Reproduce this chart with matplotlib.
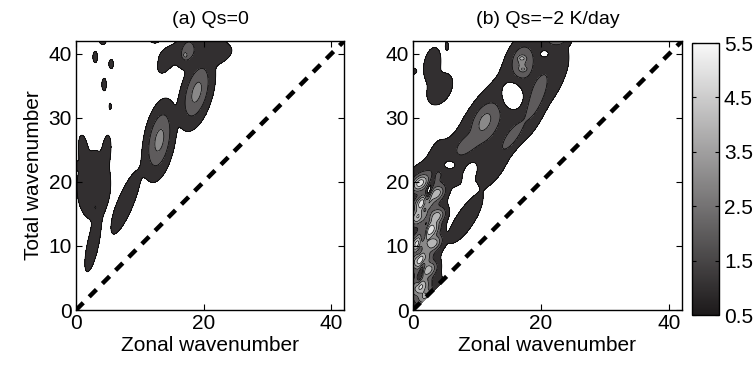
import matplotlib
matplotlib.use("Agg")
import matplotlib.pyplot as plt
import numpy as np
from matplotlib.colors import LinearSegmentedColormap, Normalize
from matplotlib.cm import ScalarMappable

plt.rcParams["font.family"] = ["Liberation Sans", "DejaVu Sans"]
plt.rcParams["font.size"] = 15

# blobs: centre (zonal, total), peak, half widths, tilt
# negative peaks are the white holes cut into the shaded areas
a_k = [2.8, 1.1, 4.8, 2.6, 3.0, 0.0, 7.8, 13.05, 18.9, 17.5, 17.1, 18.5, 14.0, 22.5, 12.3,
       3.0, 4.2, 5.5, 4.4, 5.35]
a_l = [19.5, 25.0, 25.0, 10.0, 16.0, 22.6, 16.8, 26.5, 34.0, 40.5, 39.8, 40.5, 38.5, 39.5, 42.5,
       39.5, 41.8, 38.4, 35.2, 31.8]
a_amp = [1.25, 0.95, 0.95, 1.0, 1.6, 0.7, 1.0, 2.8, 2.8, 1.8, 2.6, 1.0, 0.9, 0.9, 0.8,
         0.75, 0.7, 0.75, 0.75, 0.65]
a_sa = [4.0, 2.0, 2.0, 3.5, 0.3, 0.6, 4.5, 3.6, 3.4, 1.8, 0.4, 4.5, 1.5, 1.6, 1.0,
        1.0, 0.6, 0.8, 1.1, 0.7]
a_sb = [1.95, 0.6, 0.55, 0.75, 0.15, 0.6, 1.05, 1.35, 1.4, 1.0, 0.3, 1.6, 0.8, 0.8, 0.8,
        0.4, 0.4, 0.4, 0.4, 0.25]
a_ang = [88, 95, 85, 78, 90, 0, 68, 80, 75, 80, 90, 10, 60, 30, 0,
         90, 0, 90, 90, 90]

b_k = [7.5, 11.5, 15.0, 18.5, 20.5, 12.5,
       11.2, 8.5, 15.5, 19.3, 17.0, 17.0, 17.2, 22.6,
       15.6, 20.5, 5.8, 8.8,
       1.8, 2.2, 2.4, 2.0, 5.5, 1.9, 8.2,
       1.09, 3.7, 1.6, 0.83, 3.7, 2.7, 0.83, 3.2, 1.1, 2.4, 1.1, 1.9,
       2.2, 1.6, 1.3,
       3.0, 4.2, 0.0, 5.3]
b_l = [23.5, 27.5, 31.5, 36.5, 41.5, 22.5,
       29.5, 26.0, 27.0, 33.0, 38.8, 39.3, 37.6, 42.0,
       33.3, 40.0, 22.6, 21.8,
       3.5, 10.0, 17.0, 21.0, 21.5, 11.0, 14.2,
       19.8, 18.2, 16.7, 14.6, 14.6, 12.5, 10.4, 10.4, 7.8, 6.25, 3.6, 2.1,
       17.5, 11.5, 6.0,
       38.3, 34.5, 37.3, 41.2]
b_amp = [1.15, 1.2, 1.2, 1.2, 1.15, 0.95,
         2.6, 1.8, 1.8, 1.8, 2.5, 3.2, 3.0, 1.9,
         -2.5, -1.5, -1.5, -1.5,
         1.2, 1.2, 1.2, 1.0, 1.0, 1.9, 1.05,
         5.0, 4.0, 5.5, 4.5, 4.0, 5.0, 5.0, 4.0, 5.0, 4.0, 4.5, 3.5,
         -2.5, -2.5, -2.0,
         1.0, 1.05, 0.8, 0.7]
b_sa = [3.5, 3.5, 3.5, 3.5, 2.5, 3.0,
        2.4, 2.0, 2.6, 3.8, 2.0, 0.5, 0.5, 1.2,
        1.3, 0.5, 0.7, 1.0,
        2.5, 5.0, 4.0, 2.0, 3.0, 9.0, 3.6,
        1.2, 1.1, 1.2, 1.2, 1.1, 1.2, 1.2, 1.1, 1.2, 1.1, 1.2, 1.1,
        2.0, 2.0, 1.5,
        2.3, 2.2, 0.6, 0.8]
b_sb = [2.6, 3.1, 3.4, 3.5, 3.7, 1.4,
        1.4, 1.0, 0.9, 1.1, 1.3, 0.35, 0.35, 0.6,
        1.0, 0.4, 0.5, 0.6,
        1.4, 1.6, 1.9, 1.5, 1.4, 1.4, 1.15,
        0.8, 0.75, 0.8, 0.8, 0.75, 0.8, 0.8, 0.75, 0.8, 0.75, 0.8, 0.75,
        0.3, 0.3, 0.25,
        1.1, 1.4, 0.5, 0.3]
b_ang = [45, 50, 55, 62, 30, 60,
         65, 40, 55, 68, 80, 0, 0, 0,
         90, 0, 0, 60,
         45, 80, 85, 0, 20, 82, 57,
         45, 45, 45, 45, 45, 45, 45, 45, 45, 45, 45, 45,
         75, 75, 75,
         80, 60, 0, 90]

levels = [0.5, 1.5, 2.5, 3.5, 4.5, 5.5]
cbar_ticks = [0.5, 1.5, 2.5, 3.5, 4.5, 5.5]
titles = ["(a) Qs=0", "(b) Qs=\u22122 K/day"]

cmap = LinearSegmentedColormap.from_list("g", ["#1c191a", "#f8f8f8"])
norm = Normalize(vmin=0.5, vmax=5.5)


def build_field(ks, ls, amps, sas, sbs, angs, kk, ll):
    top = np.zeros_like(kk)
    cut = np.zeros_like(kk)
    for k0, l0, a, sa, sb, ang in zip(ks, ls, amps, sas, sbs, angs):
        t = np.deg2rad(ang)
        u = (kk - k0) * np.cos(t) + (ll - l0) * np.sin(t)
        v = -(kk - k0) * np.sin(t) + (ll - l0) * np.cos(t)
        g = a * np.exp(-0.5 * ((u / sa) ** 2 + (v / sb) ** 2))
        if a > 0:
            top += g ** 2
        else:
            cut += g
    return np.ma.masked_where(ll < kk - 0.3, np.sqrt(top) + cut)


kgrid = np.linspace(0, 42, 337)
kk, ll = np.meshgrid(kgrid, kgrid)
fields = [
    build_field(a_k, a_l, a_amp, a_sa, a_sb, a_ang, kk, ll),
    build_field(b_k, b_l, b_amp, b_sa, b_sb, b_ang, kk, ll),
]

fig = plt.figure(figsize=(7.55, 3.66), dpi=100)
ax_pos = [[0.1007, 0.153, 0.355, 0.735], [0.547, 0.153, 0.3563, 0.735]]

for i, (pos, z) in enumerate(zip(ax_pos, fields)):
    ax = fig.add_axes(pos)
    ax.contourf(kk, ll, z, levels=levels + [100], cmap=cmap, norm=norm)
    ax.contour(kk, ll, z, levels=levels, colors="k", linewidths=0.5)
    ax.plot([0, 42], [0, 42], "k--", lw=3.2, dashes=(2.3, 1.9))
    ax.set_xlim(0, 42)
    ax.set_ylim(0, 42)
    ax.set_xticks([0, 20, 40])
    ax.set_yticks([0, 10, 20, 30, 40])
    ax.tick_params(direction="in", top=True, right=True, length=4, width=0.8, pad=3)
    for s in ax.spines.values():
        s.set_linewidth(1.0)
    ax.set_xlabel("Zonal wavenumber", labelpad=2)
    if i == 0:
        ax.set_ylabel("Total wavenumber", labelpad=4)
    ax.set_title(titles[i], fontsize=14, pad=12)

cax = fig.add_axes([0.9166, 0.1393, 0.0358, 0.743])
cb = fig.colorbar(ScalarMappable(norm=norm, cmap=cmap), cax=cax, ticks=cbar_ticks)
cb.ax.tick_params(direction="in", left=True, right=True, length=3, width=0.8, labelsize=15)
cb.outline.set_linewidth(1.0)
cb.ax.set_yticklabels([str(t) for t in cbar_ticks])

fig.savefig("out.png", dpi=100)
